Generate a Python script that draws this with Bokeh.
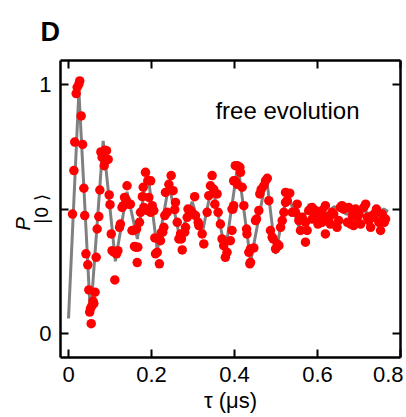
from bokeh.plotting import figure
from bokeh.models import LinearAxis, FixedTicker, Label, ColumnDataSource, Title
from bokeh.embed import file_html
from bokeh.resources import INLINE

# measured data (tau in microseconds, P|0>)
tau = [0.0096, 0.013, 0.015, 0.0185, 0.021, 0.025, 0.027, 0.0305, 0.034, 0.037,
       0.039, 0.042, 0.0465, 0.049, 0.051, 0.053, 0.0547, 0.056, 0.059, 0.061,
       0.064, 0.0667, 0.069, 0.073, 0.0755, 0.078, 0.081, 0.086, 0.0875, 0.0916,
       0.0956, 0.098, 0.100, 0.103, 0.105, 0.109, 0.1116, 0.1157, 0.119, 0.123,
       0.125, 0.129, 0.132, 0.135, 0.139, 0.141, 0.145, 0.149, 0.153, 0.156,
       0.159, 0.162, 0.164, 0.1655, 0.167, 0.171, 0.1735, 0.178, 0.1815, 0.180,
       0.1855, 0.19, 0.191, 0.1935, 0.198, 0.198, 0.2017, 0.2055, 0.208, 0.2096,
       0.2137, 0.219, 0.2217, 0.224, 0.227, 0.2297, 0.232, 0.2337, 0.2378, 0.2418,
       0.2474, 0.252, 0.256, 0.2578, 0.262, 0.266, 0.27, 0.272, 0.274, 0.280,
       0.282, 0.286, 0.288, 0.294, 0.300, 0.304, 0.306, 0.3125, 0.314, 0.322,
       0.326, 0.334, 0.338, 0.342, 0.346, 0.35, 0.3526, 0.358, 0.3605, 0.366,
       0.370, 0.374, 0.378, 0.382, 0.390, 0.394, 0.394, 0.396, 0.398, 0.398,
       0.402, 0.402, 0.4065, 0.4065, 0.413, 0.4145, 0.4185, 0.4225, 0.429, 0.430,
       0.4345, 0.437, 0.4386, 0.4386, 0.4466, 0.4506, 0.453, 0.4586, 0.461, 0.4643,
       0.4706, 0.4747, 0.479, 0.4827, 0.4867, 0.4908, 0.4932, 0.499, 0.503, 0.507,
       0.511, 0.515, 0.519, 0.523, 0.523, 0.527, 0.533, 0.539, 0.547, 0.551,
       0.555, 0.559, 0.563, 0.563, 0.571, 0.571, 0.575, 0.579, 0.587, 0.587,
       0.595, 0.595, 0.599, 0.601, 0.605, 0.606, 0.611, 0.611, 0.619, 0.619,
       0.623, 0.627, 0.631, 0.635, 0.639, 0.647, 0.651, 0.655, 0.659, 0.663,
       0.672, 0.675, 0.68, 0.684, 0.687, 0.692, 0.696, 0.70, 0.704, 0.7116,
       0.716, 0.72, 0.7236, 0.728, 0.732, 0.736, 0.74, 0.742, 0.748, 0.752,
       0.756, 0.761, 0.764]
p0 = [0.48, 0.655, 0.77, 0.965, 0.99, 1.003, 1.016, 0.875, 0.76, 0.584,
      0.474, 0.32, 0.276, 0.175, 0.086, 0.10, 0.039, 0.11, 0.13, 0.12,
      0.166, 0.306, 0.42, 0.47, 0.577, 0.73, 0.708, 0.675, 0.737, 0.735,
      0.70, 0.557, 0.518, 0.40, 0.333, 0.327, 0.215, 0.32, 0.333, 0.427,
      0.44, 0.507, 0.514, 0.547, 0.537, 0.594, 0.52, 0.52, 0.414, 0.414,
      0.35, 0.347, 0.42, 0.285, 0.347, 0.447, 0.487, 0.55, 0.507, 0.588,
      0.648, 0.494, 0.614, 0.547, 0.614, 0.487, 0.514, 0.494, 0.384, 0.32,
      0.326, 0.28, 0.373, 0.407, 0.407, 0.427, 0.474, 0.567, 0.487, 0.60,
      0.635, 0.574, 0.498, 0.527, 0.447, 0.38, 0.40, 0.38, 0.336, 0.407,
      0.427, 0.467, 0.50, 0.494, 0.48, 0.55, 0.474, 0.447, 0.434, 0.40,
      0.36, 0.487, 0.554, 0.594, 0.635, 0.58, 0.52, 0.561, 0.487, 0.44,
      0.38, 0.353, 0.306, 0.326, 0.373, 0.50, 0.414, 0.50, 0.614, 0.514,
      0.675, 0.614, 0.675, 0.60, 0.668, 0.648, 0.588, 0.514, 0.42, 0.40,
      0.326, 0.28, 0.34, 0.286, 0.344, 0.454, 0.46, 0.494, 0.561, 0.58,
      0.594, 0.614, 0.624, 0.534, 0.414, 0.387, 0.38, 0.34, 0.36, 0.353,
      0.427, 0.454, 0.487, 0.527, 0.567, 0.534, 0.564, 0.487, 0.487, 0.52,
      0.454, 0.414, 0.46, 0.467, 0.367, 0.447, 0.414, 0.494, 0.507, 0.46,
      0.494, 0.48, 0.46, 0.44, 0.467, 0.474, 0.447, 0.494, 0.514, 0.40,
      0.467, 0.46, 0.44, 0.487, 0.48, 0.427, 0.454, 0.507, 0.514, 0.50,
      0.447, 0.507, 0.44, 0.474, 0.434, 0.50, 0.467, 0.48, 0.44, 0.507,
      0.52, 0.467, 0.454, 0.427, 0.474, 0.467, 0.487, 0.50, 0.447, 0.414,
      0.48, 0.447, 0.46]

# fitted curve, read at its turning points
fit_tau = [0.0, 0.025, 0.053, 0.0835, 0.113, 0.141, 0.166, 0.19, 0.214, 0.242,
           0.268, 0.298, 0.322, 0.346, 0.378, 0.408, 0.439, 0.477, 0.499, 0.527,
           0.555, 0.58, 0.61, 0.64, 0.67, 0.70, 0.73, 0.76, 0.77]
fit_p = [0.06, 0.975, 0.07, 0.775, 0.29, 0.57, 0.38, 0.66, 0.335, 0.60,
         0.385, 0.53, 0.40, 0.60, 0.33, 0.68, 0.29, 0.63, 0.32, 0.57,
         0.43, 0.52, 0.46, 0.51, 0.48, 0.505, 0.475, 0.50, 0.49]

x_ticks = [0, 0.2, 0.4, 0.6, 0.8]
y_ticks = [0, 0.5, 1]
y_tick_labels = {0: "0", 0.5: "", 1: "1"}

FONT = "Liberation Sans"

p = figure(frame_width=340, frame_height=297, x_range=(-0.0193, 0.8), y_range=(-0.097, 1.098),
           output_backend="svg", toolbar_location=None,
           min_border_left=60, min_border_top=60, min_border_bottom=56, min_border_right=3,
           x_axis_location=None, y_axis_location=None)
p.grid.visible = False
p.outline_line_color = None
p.background_fill_color = "white"
p.border_fill_color = "white"

p.title.text = "D"
p.title.text_font = FONT
p.title.text_font_size = "27px"
p.title.text_font_style = "bold"
p.title.text_color = "black"
p.title.align = "left"
p.title.offset = -20
p.title.standoff = 28

def make_axis(ticks, show_labels, overrides=None):
    ax = LinearAxis(ticker=FixedTicker(ticks=ticks))
    ax.axis_line_width = 2.5
    ax.axis_line_color = "black"
    ax.major_tick_line_width = 2
    ax.major_tick_line_color = "black"
    ax.major_tick_in = 8
    ax.major_tick_out = 0
    ax.minor_tick_line_color = None
    ax.major_label_text_font = FONT
    ax.major_label_text_font_size = "22px"
    ax.major_label_text_color = "black"
    if show_labels:
        ax.major_label_standoff = 9
        if overrides:
            ax.major_label_overrides = overrides
    else:
        ax.major_label_standoff = 0
        ax.major_label_overrides = {t: "" for t in ticks}
    return ax

xb = make_axis(x_ticks, True)
xb.axis_label = "τ (μs)"
xb.axis_label_text_font = FONT
xb.axis_label_text_font_size = "22px"
xb.axis_label_text_font_style = "normal"
xb.axis_label_text_color = "black"
xb.axis_label_standoff = 3
p.add_layout(xb, "below")

yl = make_axis(y_ticks, True, y_tick_labels)
yl.axis_label = "|0 ⟩"
yl.axis_label_text_font = "DejaVu Sans"
yl.axis_label_text_font_size = "18px"
yl.axis_label_text_font_style = "normal"
yl.axis_label_text_color = "black"
yl.axis_label_standoff = -16
p.add_layout(yl, "left")
p.add_layout(Title(text="P", text_font=FONT, text_font_size="20px", text_font_style="italic",
                   text_color="black", align="left", offset=127, standoff=-11), "left")

p.add_layout(make_axis(x_ticks, False), "above")
p.add_layout(make_axis(y_ticks, False), "right")

p.line(fit_tau, fit_p, line_color="#808080", line_width=3)
src = ColumnDataSource(dict(tau=tau, p0=p0))
p.scatter("tau", "p0", source=src, size=9.5, fill_color="#ff0000", line_color=None)

p.add_layout(Label(x=0.354, y=0.895, text="free evolution", text_font=FONT,
                   text_font_size="24px", text_color="black", text_baseline="alphabetic"))

open("out.html", "w").write(file_html(p, INLINE))
